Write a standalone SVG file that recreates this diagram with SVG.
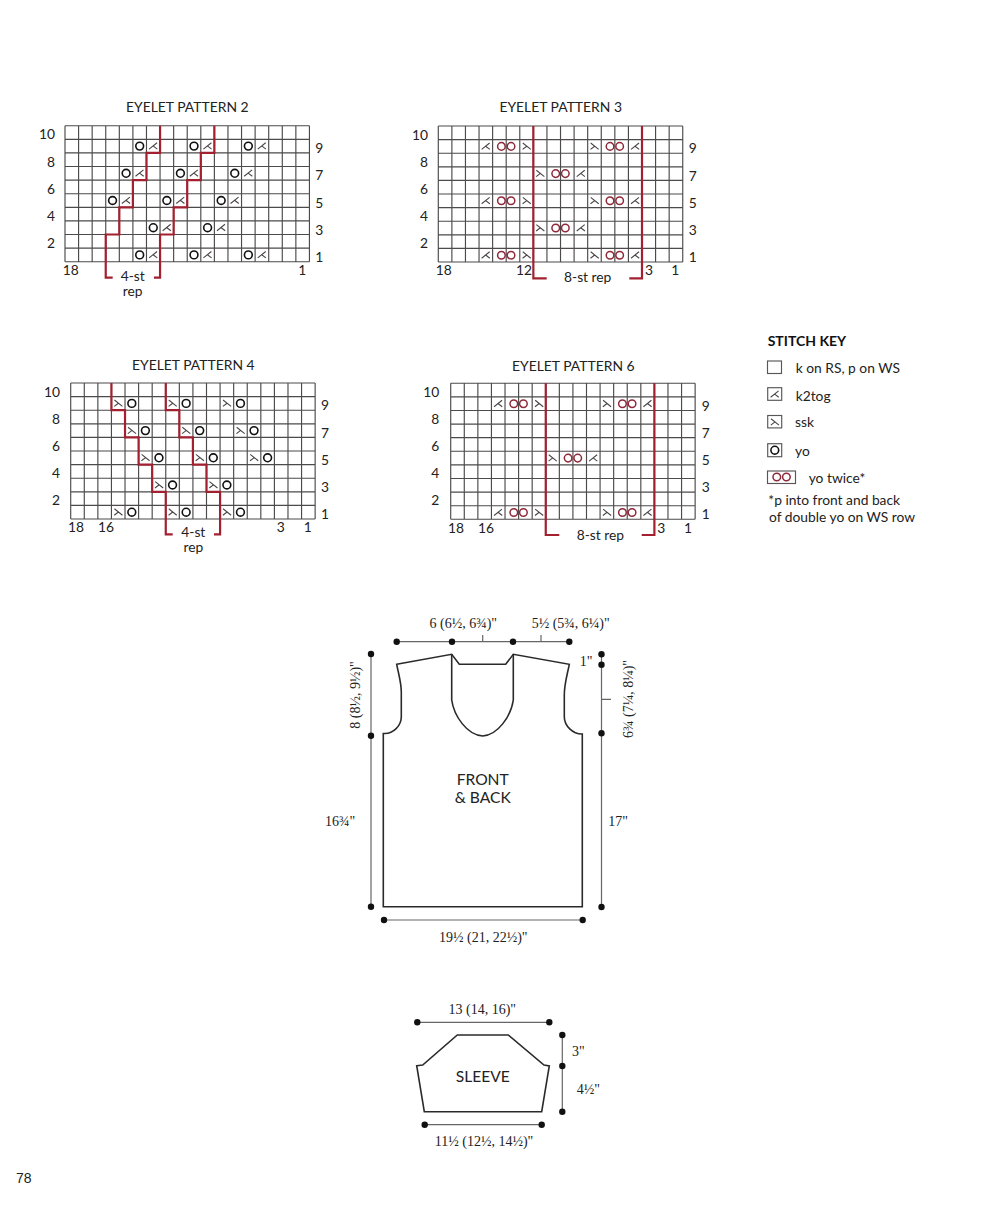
<svg xmlns="http://www.w3.org/2000/svg" xmlns:xlink="http://www.w3.org/1999/xlink" width="997" height="1217" viewBox="0 0 997 1217">
<style>
text{font-family:"Lato","Liberation Sans",sans-serif;font-size:13.8px;fill:#222}
.m{text-anchor:middle}.e{text-anchor:end}
.t{font-size:13.9px}
.s{font-family:"Liberation Serif",serif;font-size:14px;text-anchor:middle;fill:#222}
.red{fill:none;stroke:#a2202f;stroke-width:2.2}
.g{fill:none;stroke:#4d4a4c;stroke-width:1.15}
.sym{fill:none;stroke:#4a4648;stroke-width:1.1}
.o{fill:none;stroke:#111;stroke-width:1.6}
.rr{fill:#fff;stroke:#8e2a3a;stroke-width:1.5}
.ln{fill:none;stroke:#666;stroke-width:1.2}
.sh{fill:none;stroke:#2a2a2a;stroke-width:1.6}
.box{fill:#fff;stroke:#5a5658;stroke-width:1.15}
</style>
<defs>
<path id="grid" class="g" d="M0 0H244.44M0 13.6H244.44M0 27.2H244.44M0 40.8H244.44M0 54.4H244.44M0 68H244.44M0 81.6H244.44M0 95.2H244.44M0 108.8H244.44M0 122.4H244.44M0 136H244.44M0 0V136M13.58 0V136M27.16 0V136M40.74 0V136M54.32 0V136M67.9 0V136M81.48 0V136M95.06 0V136M108.64 0V136M122.22 0V136M135.8 0V136M149.38 0V136M162.96 0V136M176.54 0V136M190.12 0V136M203.7 0V136M217.28 0V136M230.86 0V136M244.44 0V136"/>
<path id="k" class="sym" d="M2.6 9.8L10.6 3.4M6.6 6.6L10.8 9.8"/>
<path id="q" class="sym" d="M3 3.4L11 9.8M7 6.6L2.8 9.8"/>
<circle id="y" class="o" cx="6.79" cy="6.8" r="3.9"/>
<g id="w"><circle class="rr" cx="-4.8" cy="6.8" r="3.8"/><circle class="rr" cx="4.8" cy="6.8" r="3.8"/></g>
<circle id="d" cx="0" cy="0" r="3.2" fill="#111"/>
</defs>

<g id="eyelet-pattern-2">
<g transform="translate(65 125.7)">
<use href="#grid"/>
<use href="#y" x="67.9" y="13.6"/><use href="#k" x="81.48" y="13.6"/><use href="#y" x="122.22" y="13.6"/><use href="#k" x="135.8" y="13.6"/><use href="#y" x="176.54" y="13.6"/><use href="#k" x="190.12" y="13.6"/>
<use href="#y" x="54.32" y="40.8"/><use href="#k" x="67.9" y="40.8"/><use href="#y" x="108.64" y="40.8"/><use href="#k" x="122.22" y="40.8"/><use href="#y" x="162.96" y="40.8"/><use href="#k" x="176.54" y="40.8"/>
<use href="#y" x="40.74" y="68"/><use href="#k" x="54.32" y="68"/><use href="#y" x="95.06" y="68"/><use href="#k" x="108.64" y="68"/><use href="#y" x="149.38" y="68"/><use href="#k" x="162.96" y="68"/>
<use href="#y" x="81.48" y="95.2"/><use href="#k" x="95.06" y="95.2"/><use href="#y" x="135.8" y="95.2"/><use href="#k" x="149.38" y="95.2"/>
<use href="#y" x="67.9" y="122.4"/><use href="#k" x="81.48" y="122.4"/><use href="#y" x="122.22" y="122.4"/><use href="#k" x="135.8" y="122.4"/><use href="#y" x="176.54" y="122.4"/><use href="#k" x="190.12" y="122.4"/>
<path class="red" d="M95.06 0V27.2H81.48V54.4H67.9V81.6H54.32V108.8H40.74V152H47.7"/>
<path class="red" d="M149.38 0V27.2H135.8V54.4H122.22V81.6H108.64V108.8H95.06V152H89"/>
</g>
<text class="m t" x="187.3" y="112">EYELET PATTERN 2</text>
<text class="e" x="55" y="139.3">10</text><text class="e" x="55" y="166.7">8</text><text class="e" x="55" y="193.5">6</text><text class="e" x="55" y="220.7">4</text><text class="e" x="55" y="247.7">2</text>
<text class="m" x="319.3" y="152.5">9</text><text class="m" x="319.3" y="180">7</text><text class="m" x="319.3" y="207.5">5</text><text class="m" x="319.3" y="235">3</text><text class="m" x="319.3" y="261.5">1</text>
<text class="m" x="70.7" y="275">18</text><text class="m" x="302.3" y="275">1</text>
<text class="m" x="132.7" y="281">4-st</text><text class="m" x="132.7" y="295.8">rep</text>
</g>

<g id="eyelet-pattern-3">
<g transform="translate(438.3 126)">
<use href="#grid"/>
<use href="#k" x="40.74" y="13.6"/><use href="#w" x="67.9" y="13.6"/><use href="#q" x="81.48" y="13.6"/><use href="#q" x="149.38" y="13.6"/><use href="#w" x="176.54" y="13.6"/><use href="#k" x="190.12" y="13.6"/>
<use href="#q" x="95.06" y="40.8"/><use href="#w" x="122.22" y="40.8"/><use href="#k" x="135.8" y="40.8"/>
<use href="#k" x="40.74" y="68"/><use href="#w" x="67.9" y="68"/><use href="#q" x="81.48" y="68"/><use href="#q" x="149.38" y="68"/><use href="#w" x="176.54" y="68"/><use href="#k" x="190.12" y="68"/>
<use href="#q" x="95.06" y="95.2"/><use href="#w" x="122.22" y="95.2"/><use href="#k" x="135.8" y="95.2"/>
<use href="#k" x="40.74" y="122.4"/><use href="#w" x="67.9" y="122.4"/><use href="#q" x="81.48" y="122.4"/><use href="#q" x="149.38" y="122.4"/><use href="#w" x="176.54" y="122.4"/><use href="#k" x="190.12" y="122.4"/>
<path class="red" d="M95.06 0V152.3H108.4"/>
<path class="red" d="M203.7 0V152.3H191"/>
</g>
<text class="m t" x="560.7" y="112">EYELET PATTERN 3</text>
<text class="e" x="428" y="139.5">10</text><text class="e" x="428" y="167">8</text><text class="e" x="428" y="194">6</text><text class="e" x="428" y="221">4</text><text class="e" x="428" y="248">2</text>
<text class="m" x="692.7" y="152.7">9</text><text class="m" x="692.7" y="180.5">7</text><text class="m" x="692.7" y="207.7">5</text><text class="m" x="692.7" y="235">3</text><text class="m" x="692.7" y="262">1</text>
<text class="m" x="443.7" y="275">18</text><text class="m" x="524" y="275">12</text><text class="m" x="649" y="275">3</text><text class="m" x="675.3" y="275">1</text>
<text class="m" x="587.7" y="281.7">8-st rep</text>
</g>

<g id="eyelet-pattern-4">
<g transform="translate(70.7 383)">
<use href="#grid"/>
<use href="#q" x="40.74" y="13.6"/><use href="#y" x="54.32" y="13.6"/><use href="#q" x="95.06" y="13.6"/><use href="#y" x="108.64" y="13.6"/><use href="#q" x="149.38" y="13.6"/><use href="#y" x="162.96" y="13.6"/>
<use href="#q" x="54.32" y="40.8"/><use href="#y" x="67.9" y="40.8"/><use href="#q" x="108.64" y="40.8"/><use href="#y" x="122.22" y="40.8"/><use href="#q" x="162.96" y="40.8"/><use href="#y" x="176.54" y="40.8"/>
<use href="#q" x="67.9" y="68"/><use href="#y" x="81.48" y="68"/><use href="#q" x="122.22" y="68"/><use href="#y" x="135.8" y="68"/><use href="#q" x="176.54" y="68"/><use href="#y" x="190.12" y="68"/>
<use href="#q" x="81.48" y="95.2"/><use href="#y" x="95.06" y="95.2"/><use href="#q" x="135.8" y="95.2"/><use href="#y" x="149.38" y="95.2"/>
<use href="#q" x="40.74" y="122.4"/><use href="#y" x="54.32" y="122.4"/><use href="#q" x="95.06" y="122.4"/><use href="#y" x="108.64" y="122.4"/><use href="#q" x="149.38" y="122.4"/><use href="#y" x="162.96" y="122.4"/>
<path class="red" d="M40.74 0V27.2H54.32V54.4H67.9V81.6H81.48V108.8H95.06V151.3H102"/>
<path class="red" d="M95.06 0V27.2H108.64V54.4H122.22V81.6H135.8V108.8H149.38V151.3H143.3"/>
</g>
<text class="m t" x="193.3" y="370">EYELET PATTERN 4</text>
<text class="e" x="60" y="396.7">10</text><text class="e" x="60" y="423.7">8</text><text class="e" x="60" y="450.7">6</text><text class="e" x="60" y="477.7">4</text><text class="e" x="60" y="505">2</text>
<text class="m" x="325" y="410.3">9</text><text class="m" x="325" y="437.5">7</text><text class="m" x="325" y="465">5</text><text class="m" x="325" y="492">3</text><text class="m" x="325" y="518.5">1</text>
<text class="m" x="76" y="532.3">18</text><text class="m" x="106" y="532.3">16</text><text class="m" x="280.7" y="532.3">3</text><text class="m" x="307.7" y="532.3">1</text>
<text class="m" x="193.3" y="537.2">4-st</text><text class="m" x="193.3" y="552.2">rep</text>
</g>

<g id="eyelet-pattern-6">
<g transform="translate(450.7 383.3)">
<use href="#grid"/>
<use href="#k" x="40.74" y="13.6"/><use href="#w" x="67.9" y="13.6"/><use href="#q" x="81.48" y="13.6"/><use href="#q" x="149.38" y="13.6"/><use href="#w" x="176.54" y="13.6"/><use href="#k" x="190.12" y="13.6"/>
<use href="#q" x="95.06" y="68"/><use href="#w" x="122.22" y="68"/><use href="#k" x="135.8" y="68"/>
<use href="#k" x="40.74" y="122.4"/><use href="#w" x="67.9" y="122.4"/><use href="#q" x="81.48" y="122.4"/><use href="#q" x="149.38" y="122.4"/><use href="#w" x="176.54" y="122.4"/><use href="#k" x="190.12" y="122.4"/>
<path class="red" d="M95.06 0V151.7H108.6"/>
<path class="red" d="M203.7 0V151.7H191"/>
</g>
<text class="m t" x="573.3" y="370.6">EYELET PATTERN 6</text>
<text class="e" x="439.3" y="396.7">10</text><text class="e" x="439.3" y="424">8</text><text class="e" x="439.3" y="451">6</text><text class="e" x="439.3" y="478">4</text><text class="e" x="439.3" y="505">2</text>
<text class="m" x="705.7" y="410.7">9</text><text class="m" x="705.7" y="438">7</text><text class="m" x="705.7" y="465">5</text><text class="m" x="705.7" y="492">3</text><text class="m" x="705.7" y="519">1</text>
<text class="m" x="456" y="533">18</text><text class="m" x="486" y="533">16</text><text class="m" x="661.3" y="533">3</text><text class="m" x="688" y="533">1</text>
<text class="m" x="600.3" y="540">8-st rep</text>
</g>

<g id="stitch-key">
<text x="767.7" y="345.7" style="font-weight:700;font-size:14px;fill:#111">STITCH KEY</text>
<rect class="box" x="767.5" y="361" width="14" height="12.5"/>
<text x="795.7" y="373.3">k on RS, p on WS</text>
<rect class="box" x="767.7" y="387.7" width="14" height="12.6"/>
<use href="#k" x="768" y="387.5"/>
<text x="795.7" y="401">k2tog</text>
<rect class="box" x="767.7" y="415.5" width="14" height="12.4"/>
<use href="#q" x="768" y="415.3"/>
<text x="795" y="427.3">ssk</text>
<rect class="box" x="767.7" y="443.7" width="14" height="13"/>
<use href="#y" x="768" y="443.4"/>
<text x="795" y="456">yo</text>
<rect class="box" x="767.5" y="471" width="28" height="12.5"/>
<use href="#w" x="781.6" y="470.2"/>
<text x="808.7" y="483.3">yo twice*</text>
<text x="768.3" y="505">*p into front and back</text>
<text x="769" y="521.7">of double yo on WS row</text>
</g>

<g id="front-back">
<path class="sh" d="M396.7 664.3L451.7 654.3L459.3 664.3H505.7L513.3 654.3L569.3 664.3C567 676 564.3 684 564.3 695V716.7C564.3 726 573 734 581.7 734H582.3V906.7H383.3V733.5H385C393 733.5 401.3 726 401.3 716.7V692C401.3 683 399 676 396.7 664.3Z"/>
<path class="sh" d="M451.7 654.3V700C454 716 467 735 482.7 736C498 735 511 716 513.3 700V654.3"/>
<text class="m" style="font-size:15.6px" x="482.7" y="785">FRONT</text>
<text class="m" style="font-size:15.6px" x="482.7" y="802.7">&amp; BACK</text>
</g>

<g id="sleeve">
<path class="sh" d="M416.7 1065.7L422.7 1065L457.3 1035H508.3L544 1065L549.3 1066L541.7 1111.7H424.3Z"/>
<text class="m" style="font-size:15.6px" x="482.7" y="1081.7">SLEEVE</text>
</g>

<g id="connectors">
<path class="ln" d="M396.7 641.7H569.3M482.7 641.7V635M541 641.7V635M371 654V906.7M601.5 654.3V907M601.5 699.3H611M384 920H582.7M417.3 1022.3H549.3M562.3 1035V1111.7M424.7 1124.7H541.7"/>
<use href="#d" x="396.7" y="641.7"/><use href="#d" x="452" y="641.7"/><use href="#d" x="513" y="641.7"/><use href="#d" x="569.3" y="641.7"/>
<use href="#d" x="371" y="654"/><use href="#d" x="371" y="735.7"/><use href="#d" x="371" y="906.7"/>
<use href="#d" x="601.5" y="654.3"/><use href="#d" x="601.5" y="664.7"/><use href="#d" x="601.5" y="733.3"/><use href="#d" x="601.5" y="907"/>
<use href="#d" x="384" y="920"/><use href="#d" x="582.7" y="920"/>
<use href="#d" x="417.3" y="1022.3"/><use href="#d" x="549.3" y="1022.3"/>
<use href="#d" x="562.3" y="1035"/><use href="#d" x="562.3" y="1066"/><use href="#d" x="562.3" y="1111.7"/>
<use href="#d" x="424.7" y="1124.7"/><use href="#d" x="541.7" y="1124.7"/>
</g>

<g id="measurements">
<text class="s" x="463.3" y="628.3">6 (6½, 6¾)"</text>
<text class="s" x="570.7" y="628.3">5½ (5¾, 6¼)"</text>
<text class="s" x="586" y="666">1"</text>
<text class="s" transform="translate(360 695) rotate(-90)">8 (8½, 9½)"</text>
<text class="s" transform="translate(633 699) rotate(-90)">6¾ (7¼, 8¼)"</text>
<text class="s" x="340" y="826">16¾"</text>
<text class="s" x="618" y="826">17"</text>
<text class="s" x="483.3" y="942.3">19½ (21, 22½)"</text>
<text class="s" x="482.3" y="1014.3">13 (14, 16)"</text>
<text class="s" x="578.3" y="1055.7">3"</text>
<text class="s" x="588.3" y="1094">4½"</text>
<text class="s" x="484" y="1146">11½ (12½, 14½)"</text>
</g>

<text id="page-number" x="16" y="1183" style="font-size:14px;font-family:'Liberation Sans',sans-serif">78</text>
</svg>
